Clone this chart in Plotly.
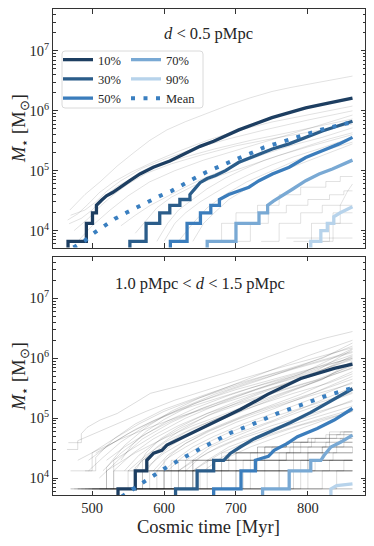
import plotly.graph_objects as go

# ---------------- data (cosmic time [Myr], stellar mass [Msun]) ----------------
PCT_LABELS = ["10%", "30%", "50%", "70%", "90%"]

# top panel: d < 0.5 pMpc
TOP_P10_T = [466.5, 466.5, 492, 492, 500.5, 500.5, 506, 506, 513, 520, 529, 538.6, 552.5, 566.5, 585, 608, 632, 650, 669, 704, 750, 797, 830, 862]
TOP_P10_M = [3e3, 6.6e3, 6.6e3, 1.32e4, 1.32e4, 1.98e4, 1.98e4, 2.64e4, 3.2e4, 3.8e4, 4.35e4, 5.3e4, 6.8e4, 8.8e4, 1.14e5, 1.45e5, 2.0e5, 2.55e5, 3.1e5, 4.8e5, 7.7e5, 1.12e6, 1.35e6, 1.63e6]
TOP_P30_T = [552.5, 552.5, 575, 575, 594, 594, 608, 608, 622, 622, 636, 636, 643, 650, 660, 671.5, 685.5, 704, 727, 750.6, 773.8, 797, 820, 862]
TOP_P30_M = [3e3, 6.6e3, 6.6e3, 1.32e4, 1.32e4, 1.98e4, 1.98e4, 2.64e4, 2.64e4, 3.3e4, 3.3e4, 4.0e4, 5.0e4, 6.3e4, 7.4e4, 8.3e4, 1.0e5, 1.38e5, 1.78e5, 2.3e5, 2.8e5, 3.6e5, 4.6e5, 6.7e5]
TOP_P50_T = [608.8, 608.8, 632, 632, 650.6, 650.6, 665, 665, 677, 677, 690, 704, 718, 732, 750.6, 774, 797, 820, 843.5, 862]
TOP_P50_M = [3e3, 6.6e3, 6.6e3, 1.32e4, 1.32e4, 1.98e4, 1.98e4, 2.64e4, 2.64e4, 3.3e4, 4.0e4, 4.6e4, 5.3e4, 6.8e4, 8.8e4, 1.14e5, 1.66e5, 2.15e5, 2.8e5, 3.6e5]
TOP_P70_T = [660, 660, 700, 700, 732, 732, 744, 744, 752, 764.5, 778.5, 797, 815.6, 834, 862]
TOP_P70_M = [3e3, 6.6e3, 6.6e3, 1.32e4, 1.32e4, 1.98e4, 1.98e4, 2.64e4, 3.1e4, 3.8e4, 4.9e4, 6.8e4, 8.8e4, 1.07e5, 1.5e5]
TOP_P90_T = [804, 804, 818, 818, 827, 827, 836, 836, 845, 853, 862]
TOP_P90_M = [3e3, 6.6e3, 6.6e3, 1.0e4, 1.0e4, 1.32e4, 1.32e4, 1.7e4, 1.98e4, 2.2e4, 2.5e4]
TOP_MEAN_T = [474, 490, 502, 517.6, 531.6, 548, 562, 578, 594.4, 610.6, 627, 641, 659, 674, 690, 706, 722.7, 739, 755, 787.7, 820, 862]
TOP_MEAN_M = [5.2e3, 6.8e3, 9.0e3, 1.2e4, 1.57e4, 2.0e4, 2.45e4, 3.1e4, 3.8e4, 4.6e4, 6.0e4, 7.3e4, 9.5e4, 1.15e5, 1.4e5, 1.66e5, 2.0e5, 2.45e5, 2.8e5, 3.7e5, 4.9e5, 6.5e5]

TOP_GREY_T = [
    [469, 490, 511, 535, 558, 580, 604, 630, 657, 690, 720, 750, 776, 820, 862],
    [466, 480, 495, 510, 530, 555, 585, 620, 660, 700, 750, 800, 862],
    [468, 485, 500, 515, 535, 560, 590, 630, 670, 720, 780, 862],
    [470, 490, 505, 520, 540, 570, 600, 640, 690, 740, 800, 862],
    [475, 495, 512, 530, 550, 575, 610, 650, 700, 760, 820, 862],
    [540, 560, 580, 600, 625, 650, 680, 710, 740, 780, 820, 862],
    [590, 605, 620, 640, 660, 685, 710, 740, 770, 800, 830, 862],
    [600, 615, 630, 650, 670, 695, 720, 750, 780, 815, 862],
    [640, 655, 670, 690, 710, 735, 760, 790, 820, 862],
    [480, 500, 525, 550, 580, 615, 655, 700, 750, 800, 862],
    [620, 640, 660, 685, 715, 750, 790, 830, 862],
    [660, 680, 700, 730, 760, 790, 825, 845, 862],
    [700, 720, 745, 770, 800, 830, 850, 862],
    [735, 760, 790, 820, 862],
    [780, 805, 835, 862],
    [810, 830, 862],
    [770, 862],
    [820, 835, 835, 845, 845, 855, 862],
    [560, 575, 590, 610, 640, 680, 720, 760, 800, 862],
]
TOP_GREY_M = [
    [2.2e4, 4.0e4, 6.5e4, 1.2e5, 2.0e5, 3.2e5, 4.8e5, 6.6e5, 8.8e5, 1.25e6, 1.65e6, 2.1e6, 2.45e6, 3.1e6, 3.8e6],
    [1.5e4, 1.9e4, 2.8e4, 4.3e4, 6.5e4, 9.5e4, 1.4e5, 2.1e5, 3.2e5, 4.6e5, 6.5e5, 8.5e5, 1.2e6],
    [1.3e4, 1.6e4, 2.2e4, 3.5e4, 5.5e4, 8e4, 1.2e5, 1.7e5, 2.3e5, 3.2e5, 4.5e5, 7.3e5],
    [1.8e4, 2.2e4, 3.0e4, 4.5e4, 6.8e4, 1.1e5, 1.55e5, 2.3e5, 3.4e5, 4.8e5, 7e5, 1.0e6],
    [1.0e4, 1.6e4, 2.6e4, 4.0e4, 6.0e4, 9.0e4, 1.3e5, 1.8e5, 2.6e5, 3.6e5, 4.8e5, 6.0e5],
    [1.2e4, 1.8e4, 2.6e4, 3.5e4, 5e4, 7e4, 1e5, 1.4e5, 1.9e5, 2.7e5, 3.6e5, 5.2e5],
    [6.6e3, 1.32e4, 2.2e4, 3.3e4, 5e4, 7.5e4, 1.05e5, 1.5e5, 2e5, 2.6e5, 3.4e5, 4.3e5],
    [6.6e3, 1.32e4, 1.98e4, 3.0e4, 4.2e4, 6.3e4, 8.8e4, 1.25e5, 1.7e5, 2.3e5, 3.6e5],
    [6.6e3, 1.32e4, 1.98e4, 3.3e4, 4.6e4, 6.8e4, 9.5e4, 1.3e5, 1.8e5, 2.8e5],
    [6.6e3, 1.2e4, 2.2e4, 3.8e4, 6.5e4, 1.0e5, 1.5e5, 2.2e5, 3.3e5, 5e5, 8.5e5],
    [6.6e3, 1.32e4, 2.4e4, 4e4, 6.5e4, 1.0e5, 1.6e5, 2.3e5, 3.0e5],
    [6.6e3, 1.32e4, 1.98e4, 2.64e4, 3.96e4, 5.3e4, 6.6e4, 8e4, 8e4],
    [6.6e3, 1.32e4, 1.98e4, 2.64e4, 3.3e4, 3.96e4, 4.6e4, 4.6e4],
    [6.6e3, 1.32e4, 1.98e4, 2.64e4, 2.64e4],
    [6.6e3, 1.32e4, 1.98e4, 1.98e4],
    [6.6e3, 1.32e4, 1.32e4],
    [7.5e3, 7.5e3],
    [6.6e3, 6.6e3, 1.32e4, 1.32e4, 2.64e4, 4.5e4, 6e4],
    [9e3, 1.5e4, 2.4e4, 3.6e4, 5.5e4, 8.5e4, 1.25e5, 1.8e5, 2.5e5, 4.0e5],
]
TOP_GREY_SHAPE = ["linear"] * 11 + ["hv"] * 6 + ["linear"] * 2

# bottom panel: 1.0 pMpc < d < 1.5 pMpc
BOT_P10_T = [536, 536, 560, 560, 576, 576, 585.5, 597, 604, 613, 627, 646, 664.6, 683, 706, 730, 744, 790, 836.5, 862]
BOT_P10_M = [3e3, 6.6e3, 6.6e3, 1.32e4, 1.32e4, 1.98e4, 2.6e4, 2.9e4, 3.55e4, 4e4, 4.9e4, 6.3e4, 8.1e4, 1.05e5, 1.4e5, 2.0e5, 2.5e5, 4.6e5, 6.8e5, 8e5]
BOT_P30_T = [616, 616, 646, 646, 669, 669, 683, 692.5, 706, 725, 748, 776, 804, 836.5, 862]
BOT_P30_M = [3e3, 6.6e3, 6.6e3, 1.32e4, 1.32e4, 1.98e4, 1.98e4, 2.6e4, 3.3e4, 4.5e4, 6.0e4, 8.5e4, 1.25e5, 2.1e5, 3.1e5]
BOT_P50_T = [669, 669, 707, 707, 727, 727, 745, 753, 771.5, 785.5, 813, 836.5, 862]
BOT_P50_M = [3e3, 6.6e3, 6.6e3, 1.32e4, 1.32e4, 1.98e4, 2.3e4, 2.9e4, 3.8e4, 4.9e4, 6.7e4, 9.3e4, 1.45e5]
BOT_P70_T = [737, 737, 774, 774, 804, 804, 818, 822.6, 832, 846, 862]
BOT_P70_M = [3e3, 6.6e3, 6.6e3, 1.32e4, 1.32e4, 1.98e4, 1.98e4, 2.4e4, 3.3e4, 4.0e4, 5.2e4]
BOT_P90_T = [832, 832, 840, 862]
BOT_P90_M = [3e3, 6.6e3, 7.5e3, 8.0e3]
BOT_MEAN_T = [541, 555, 569, 584.6, 599.5, 629.7, 646, 662, 676, 692.5, 725, 757.6, 790, 822.6, 862]
BOT_MEAN_M = [4.9e3, 6.3e3, 8.1e3, 1.08e4, 1.42e4, 2.28e4, 2.9e4, 3.7e4, 4.6e4, 5.7e4, 8.1e4, 1.2e5, 1.65e5, 2.3e5, 3.2e5]

BOT_GREY_T = [
    [467, 485, 485, 493, 511, 535, 558, 581, 627, 651, 697, 744, 790, 826, 862],
    [500, 520, 520, 545, 575, 610, 650, 700, 750, 800, 862],
    [490, 505, 505, 530, 560, 600, 650, 700, 760, 820, 862],
    [540, 555, 575, 600, 640, 690, 740, 790, 862],
    [510, 530, 530, 560, 590, 630, 680, 730, 790, 862],
    [525, 560, 560, 590, 620, 660, 710, 760, 810, 862],
    [560, 575, 595, 620, 660, 700, 750, 800, 862],
    [540, 570, 570, 600, 630, 670, 720, 770, 820, 862],
    [575, 590, 610, 640, 680, 720, 770, 820, 862],
    [480, 520, 520, 560, 600, 640, 690, 740, 800, 862],
    [590, 610, 630, 660, 700, 740, 790, 840, 862],
    [560, 600, 600, 630, 660, 700, 750, 800, 862],
    [600, 620, 640, 670, 710, 760, 810, 862],
    [610, 630, 630, 660, 700, 750, 800, 862],
    [620, 640, 665, 700, 740, 790, 862],
    [580, 620, 620, 660, 700, 750, 810, 862],
    [640, 660, 690, 730, 780, 830, 862],
    [650, 680, 680, 720, 770, 820, 862],
    [470, 500, 500, 540, 580, 620, 670, 720, 780, 862],
    [600, 640, 640, 680, 720, 770, 820, 862],
    [510, 540, 570, 610, 650, 700, 750, 800, 862],
    [530, 555, 585, 620, 660, 710, 760, 810, 862],
    [550, 575, 605, 640, 680, 730, 780, 830, 862],
    [495, 520, 550, 585, 625, 670, 720, 780, 862],
    [570, 600, 630, 670, 710, 760, 810, 862],
    [505, 530, 560, 600, 650, 700, 760, 820, 862],
    [520, 545, 575, 610, 655, 705, 760, 815, 862],
    [480, 500, 530, 565, 600, 640, 690, 740, 800, 862],
    [515, 540, 570, 605, 645, 690, 740, 795, 862],
    [545, 565, 590, 625, 665, 710, 760, 815, 862],
    [585, 605, 630, 665, 705, 750, 800, 862],
    [605, 625, 650, 685, 725, 775, 825, 862],
    [630, 650, 675, 710, 750, 800, 862],
    [655, 680, 710, 745, 790, 840, 862],
    [465, 480, 480, 510, 540, 575, 615, 660, 710, 770, 830, 862],
    [495, 515, 540, 575, 620, 670, 720, 780, 862],
    # step-like histories
    [560, 600, 660, 700, 740, 770, 800, 830, 862],
    [520, 580, 640, 690, 730, 770, 810, 840, 862],
    [490, 550, 620, 680, 740, 790, 830, 862],
    [475, 530, 610, 700, 780, 830, 862],
    [500, 600, 690, 760, 820, 862],
    [485, 570, 670, 780, 862],
    [470, 560, 720, 862],
    [520, 650, 800, 862],
    [480, 700, 862],
    [560, 760, 862],
    [470, 862],
    [600, 862],
    [650, 720, 780, 820, 862],
    [700, 760, 800, 835, 862],
    [740, 790, 830, 862],
    [620, 680, 730, 770, 800, 825, 845, 862],
    [540, 620, 680, 720, 750, 780, 805, 830, 850, 862],
    [580, 640, 700, 740, 775, 805, 830, 850, 862],
    [800, 840, 862],
    [680, 780, 862],
    [510, 590, 640, 690, 730, 770, 800, 825, 845, 862],
    [530, 610, 670, 730, 790, 840, 862],
    [570, 640, 710, 770, 820, 862],
    [590, 700, 790, 862],
    [630, 710, 760, 800, 830, 850, 862],
    [660, 740, 810, 862],
    [720, 800, 862],
    [760, 820, 850, 862],
    [495, 640, 760, 862],
    [545, 660, 740, 800, 840, 862],
]
BOT_GREY_M = [
    [3.9e4, 3.9e4, 5.5e4, 7e4, 9.3e4, 1.2e5, 1.76e5, 2.6e5, 3.6e5, 4.3e5, 6.3e5, 1.05e6, 1.66e6, 2.2e6, 2.8e6],
    [6.6e3, 6.6e3, 1.5e4, 3.5e4, 7e4, 1.3e5, 2.2e5, 3.8e5, 6.5e5, 1.1e6, 2.0e6],
    [1.32e4, 1.32e4, 2.2e4, 4.5e4, 8e4, 1.4e5, 2.3e5, 3.7e5, 6e5, 1.0e6, 1.8e6],
    [1.98e4, 3.5e4, 6e4, 9.5e4, 1.7e5, 2.9e5, 4.6e5, 7.5e5, 1.6e6],
    [6.6e3, 6.6e3, 1.98e4, 3.3e4, 5.5e4, 1.0e5, 1.8e5, 3.1e5, 5.5e5, 1.45e6],
    [6.6e3, 6.6e3, 1.5e4, 3.3e4, 6e4, 1.1e5, 2.0e5, 3.4e5, 5.6e5, 1.1e6],
    [1.32e4, 2.64e4, 4.5e4, 7e4, 1.2e5, 1.9e5, 3.2e5, 5.2e5, 1.0e6],
    [6.6e3, 6.6e3, 1.98e4, 3.5e4, 5.8e4, 9.5e4, 1.6e5, 2.7e5, 4.4e5, 9e5],
    [1.32e4, 2.2e4, 3.5e4, 5.8e4, 9.5e4, 1.5e5, 2.6e5, 4.5e5, 8e5],
    [6.6e3, 6.6e3, 1.32e4, 2.64e4, 4.6e4, 7.5e4, 1.25e5, 2.1e5, 3.7e5, 7e5],
    [1.32e4, 2.5e4, 3.8e4, 6e4, 9.5e4, 1.5e5, 2.5e5, 4.5e5, 6e5],
    [6.6e3, 6.6e3, 1.98e4, 3.3e4, 5.2e4, 8.5e4, 1.4e5, 2.4e5, 5e5],
    [1.32e4, 2.2e4, 3.3e4, 5e4, 8e4, 1.3e5, 2.2e5, 4e5],
    [6.6e3, 6.6e3, 1.98e4, 3.3e4, 5.5e4, 9e4, 1.6e5, 3.3e5],
    [1.32e4, 1.98e4, 3.3e4, 5e4, 7.8e4, 1.3e5, 2.6e5],
    [6.6e3, 6.6e3, 1.32e4, 2.64e4, 4.3e4, 6.8e4, 1.15e5, 2.0e5],
    [1.32e4, 1.98e4, 3.3e4, 5e4, 8e4, 1.2e5, 1.6e5],
    [6.6e3, 6.6e3, 1.98e4, 3.3e4, 5.5e4, 9e4, 1.3e5],
    [1.32e4, 1.32e4, 2.64e4, 4.5e4, 7e4, 1.05e5, 1.6e5, 2.5e5, 4e5, 8.5e5],
    [6.6e3, 6.6e3, 1.32e4, 2.64e4, 4.2e4, 6.6e4, 1.0e5, 1.4e5],
    [1.0e4, 2.2e4, 4.5e4, 8.5e4, 1.4e5, 2.3e5, 3.6e5, 5.4e5, 9.5e5],
    [1.32e4, 2.5e4, 4.5e4, 7.5e4, 1.2e5, 1.9e5, 2.9e5, 4.3e5, 7.5e5],
    [1.32e4, 2.4e4, 4.2e4, 6.8e4, 1.05e5, 1.65e5, 2.6e5, 3.9e5, 5.5e5],
    [1.98e4, 3.3e4, 5.5e4, 9e4, 1.4e5, 2.1e5, 3.2e5, 5e5, 1.05e6],
    [1.32e4, 2.6e4, 4.2e4, 7e4, 1.1e5, 1.7e5, 2.7e5, 4.5e5],
    [2.6e4, 4.0e4, 6.5e4, 1.1e5, 1.9e5, 3.0e5, 4.8e5, 7.5e5, 1.0e6],
    [1.98e4, 3.3e4, 5.5e4, 9e4, 1.5e5, 2.5e5, 4.0e5, 6.5e5, 1.4e6],
    [1.98e4, 2.64e4, 4.5e4, 8e4, 1.3e5, 2.0e5, 3.2e5, 5e5, 8e5, 1.3e6],
    [1.32e4, 2.6e4, 5e4, 9e4, 1.5e5, 2.4e5, 3.8e5, 6e5, 1.15e6],
    [1.32e4, 2.4e4, 4e4, 7e4, 1.15e5, 1.8e5, 2.8e5, 4.4e5, 6.8e5],
    [1.32e4, 2.4e4, 3.8e4, 6.2e4, 9.8e4, 1.5e5, 2.3e5, 3.8e5],
    [1.32e4, 2.2e4, 3.4e4, 5.4e4, 8.4e4, 1.3e5, 2e5, 2.7e5],
    [1.32e4, 2.2e4, 3.3e4, 5e4, 7.5e4, 1.15e5, 1.9e5],
    [1.32e4, 2.2e4, 3.4e4, 5e4, 7.6e4, 1.1e5, 1.3e5],
    [3.0e4, 3.0e4, 4.2e4, 6e4, 8.5e4, 1.3e5, 2.0e5, 3.0e5, 4.6e5, 7.5e5, 1.2e6, 1.5e6],
    [1.32e4, 2.2e4, 4e4, 7.5e4, 1.4e5, 2.5e5, 4e5, 6.6e5, 1.25e6],
    [6.6e3, 1.32e4, 1.98e4, 2.64e4, 3.3e4, 3.96e4, 4.6e4, 5.9e4, 5.9e4],
    [6.6e3, 1.32e4, 1.98e4, 2.64e4, 3.3e4, 3.96e4, 4.6e4, 5.3e4, 5.3e4],
    [6.6e3, 1.32e4, 1.98e4, 2.64e4, 3.3e4, 3.96e4, 4.6e4, 4.6e4],
    [6.6e3, 1.32e4, 1.98e4, 2.64e4, 3.3e4, 3.96e4, 3.96e4],
    [6.6e3, 1.32e4, 1.98e4, 2.64e4, 3.3e4, 3.3e4],
    [6.6e3, 1.32e4, 1.98e4, 2.64e4, 2.64e4],
    [6.6e3, 1.32e4, 1.98e4, 1.98e4],
    [6.6e3, 1.32e4, 1.98e4, 1.98e4],
    [6.6e3, 1.32e4, 1.32e4],
    [6.6e3, 1.32e4, 1.32e4],
    [6.6e3, 6.6e3],
    [6.6e3, 6.6e3],
    [6.6e3, 1.32e4, 1.98e4, 2.64e4, 2.64e4],
    [6.6e3, 1.32e4, 1.98e4, 2.64e4, 3.3e4],
    [6.6e3, 1.32e4, 1.98e4, 1.98e4],
    [6.6e3, 1.32e4, 1.98e4, 2.64e4, 3.3e4, 3.96e4, 4.6e4, 4.6e4],
    [6.6e3, 1.32e4, 1.98e4, 2.64e4, 3.3e4, 3.96e4, 4.6e4, 5.3e4, 5.9e4, 5.9e4],
    [6.6e3, 1.32e4, 1.98e4, 2.64e4, 3.3e4, 3.96e4, 4.6e4, 5.3e4, 5.3e4],
    [6.6e3, 1.32e4, 1.32e4],
    [6.6e3, 1.32e4, 1.32e4],
    [6.6e3, 1.32e4, 1.98e4, 2.64e4, 3.3e4, 3.96e4, 4.6e4, 5.3e4, 5.9e4, 5.9e4],
    [6.6e3, 1.32e4, 1.98e4, 2.64e4, 3.3e4, 3.96e4, 3.96e4],
    [6.6e3, 1.32e4, 1.98e4, 2.64e4, 3.3e4, 3.3e4],
    [6.6e3, 1.32e4, 1.98e4, 1.98e4],
    [6.6e3, 1.32e4, 1.98e4, 2.64e4, 3.3e4, 3.96e4, 3.96e4],
    [6.6e3, 1.32e4, 1.98e4, 1.98e4],
    [6.6e3, 1.32e4, 1.32e4],
    [6.6e3, 1.32e4, 1.98e4, 1.98e4],
    [6.6e3, 1.32e4, 1.98e4, 1.98e4],
    [6.6e3, 1.32e4, 1.98e4, 2.64e4, 3.3e4, 3.3e4],
]
BOT_GREY_SHAPE = ["linear"] * 36 + ["hv"] * 30

PANEL_TITLES = ["<i>d</i> &lt; 0.5 pMpc", "1.0 pMpc &lt; <i>d</i> &lt; 1.5 pMpc"]
Y_TICKVALS = [1e4, 1e5, 1e6, 1e7]
Y_TICKTEXT = ["10<sup>4</sup>", "10<sup>5</sup>", "10<sup>6</sup>", "10<sup>7</sup>"]
X_TICKVALS = [500, 600, 700, 800]

# ---------------- styling ----------------
# The page body has an 8 px margin, so the figure is 8 px smaller than the window.
OFF = 8
W, H = 374, 546
PL, PR, PT, PB = 53, 365, 9, 495          # plot area in window pixels
FW, FH = W - OFF, H - OFF
ML, MR, MT, MB = PL - OFF, W - PR, PT - OFF, H - PB
PW, PH = PR - PL, PB - PT
FONT = "Liberation Serif"
TXT = "#262626"
COLORS = ["#1d3e61", "#2b5d8a", "#3b7dbc", "#79a9d4", "#b7d3eb"]
MEAN_COLOR = "#3a7fc0"
GAP = 9
top_dom = [1 - (PH - GAP) / 2 / PH, 1]
bot_dom = [0, (PH - GAP) / 2 / PH]


def px2paper(px, py):
    return (px - PL) / PW, (PB - py) / PH


fig = go.Figure()

panels = [
    dict(xa="x", ya="y", grey_t=TOP_GREY_T, grey_m=TOP_GREY_M, grey_s=TOP_GREY_SHAPE, gcol="rgba(0,0,0,0.17)",
         pt=[TOP_P10_T, TOP_P30_T, TOP_P50_T, TOP_P70_T, TOP_P90_T],
         pm=[TOP_P10_M, TOP_P30_M, TOP_P50_M, TOP_P70_M, TOP_P90_M],
         mt=TOP_MEAN_T, mm=TOP_MEAN_M, legend=True),
    dict(xa="x2", ya="y2", grey_t=BOT_GREY_T, grey_m=BOT_GREY_M, grey_s=BOT_GREY_SHAPE, gcol="rgba(0,0,0,0.2)",
         pt=[BOT_P10_T, BOT_P30_T, BOT_P50_T, BOT_P70_T, BOT_P90_T],
         pm=[BOT_P10_M, BOT_P30_M, BOT_P50_M, BOT_P70_M, BOT_P90_M],
         mt=BOT_MEAN_T, mm=BOT_MEAN_M, legend=False),
]

for p in panels:
    for t, m, s in zip(p["grey_t"], p["grey_m"], p["grey_s"]):
        fig.add_trace(go.Scatter(x=t, y=m, mode="lines", line=dict(color=p["gcol"], width=0.7, shape=s),
                                 xaxis=p["xa"], yaxis=p["ya"], showlegend=False, hoverinfo="skip"))
    for i, (t, m) in enumerate(zip(p["pt"], p["pm"])):
        fig.add_trace(go.Scatter(x=t, y=m, mode="lines", name=PCT_LABELS[i],
                                 line=dict(color=COLORS[i], width=3.3),
                                 xaxis=p["xa"], yaxis=p["ya"], showlegend=p["legend"],
                                 legend="legend" if i < 3 else "legend2"))
    fig.add_trace(go.Scatter(x=p["mt"], y=p["mm"], mode="lines", name="Mean",
                             line=dict(color=MEAN_COLOR, width=4, dash="4px,8.5px"),
                             xaxis=p["xa"], yaxis=p["ya"], showlegend=p["legend"], legend="legend2"))

minor_vals = [k * 10 ** n for n in range(3, 8) for k in range(2, 10)]
axis_common = dict(showline=True, linecolor="#333", linewidth=1, mirror="allticks",
                   ticks="inside", ticklen=4.5, tickwidth=0.8, tickcolor="#333",
                   showgrid=False, zeroline=False,
                   tickfont=dict(family=FONT, size=14.5, color=TXT))
yaxis_common = dict(axis_common, type="log", range=[3.717, 7.7], tickvals=Y_TICKVALS, ticktext=Y_TICKTEXT,
                    minor=dict(tickvals=minor_vals, ticks="inside", ticklen=2.5, tickwidth=0.6, tickcolor="#333"))
xaxis_common = dict(axis_common, range=[445.6, 879.4], tickvals=X_TICKVALS)

lx1, ly = px2paper(58, 45)
lx2, _ = px2paper(126, 45)
legend_common = dict(xanchor="left", yanchor="top", bgcolor="rgba(0,0,0,0)", borderwidth=0,
                     font=dict(family=FONT, size=12.5, color=TXT), tracegroupgap=0, itemwidth=30)

fig.update_layout(
    width=FW, height=FH, margin=dict(l=ML, r=MR, t=MT, b=MB, autoexpand=False),
    paper_bgcolor="white", plot_bgcolor="white",
    xaxis=dict(xaxis_common, anchor="y", showticklabels=False, matches="x2"),
    yaxis=dict(yaxis_common, domain=top_dom, anchor="x"),
    xaxis2=dict(xaxis_common, anchor="y2"),
    yaxis2=dict(yaxis_common, domain=bot_dom, anchor="x2"),
    font=dict(family=FONT, color=TXT),
    legend=dict(legend_common, x=lx1, y=ly),
    legend2=dict(legend_common, x=lx2, y=ly),
)

# legend frame (rounded box)
x0, y0 = px2paper(62, 51)
x1, y1 = px2paper(203, 108)
rx, ry = 3 / PW, 3 / PH
path = (f"M{x0 + rx},{y0} L{x1 - rx},{y0} Q{x1},{y0} {x1},{y0 - ry} L{x1},{y1 + ry} Q{x1},{y1} {x1 - rx},{y1} "
        f"L{x0 + rx},{y1} Q{x0},{y1} {x0},{y1 + ry} L{x0},{y0 - ry} Q{x0},{y0} {x0 + rx},{y0} Z")
fig.add_shape(type="path", path=path, xref="paper", yref="paper", layer="above",
              fillcolor="rgba(255,255,255,0.8)", line=dict(color="#d0d0d0", width=0.8))

# panel titles
for (cx, cy), txt in zip([(208, 33), (200, 283)], PANEL_TITLES):
    ax, ay = px2paper(cx, cy)
    fig.add_annotation(x=ax, y=ay, xref="paper", yref="paper", text=txt, showarrow=False,
                       font=dict(family=FONT, size=16.5, color=TXT), xanchor="center", yanchor="middle")

# y-axis titles
for cy in [129, 377]:
    ax, ay = px2paper(20, cy)
    fig.add_annotation(x=ax, y=ay, xref="paper", yref="paper", textangle=-90, showarrow=False,
                       text="<i>M</i><sub>\u22c6</sub> [M<sub>\u2299</sub>]",
                       font=dict(family=FONT, size=18.5, color=TXT), xanchor="center", yanchor="middle")

# x-axis title
ax, ay = px2paper(208, 527)
fig.add_annotation(x=ax, y=ay, xref="paper", yref="paper", text="Cosmic time [Myr]", showarrow=False,
                   font=dict(family=FONT, size=18.5, color=TXT), xanchor="center", yanchor="middle")

fig.write_html("out.html")
